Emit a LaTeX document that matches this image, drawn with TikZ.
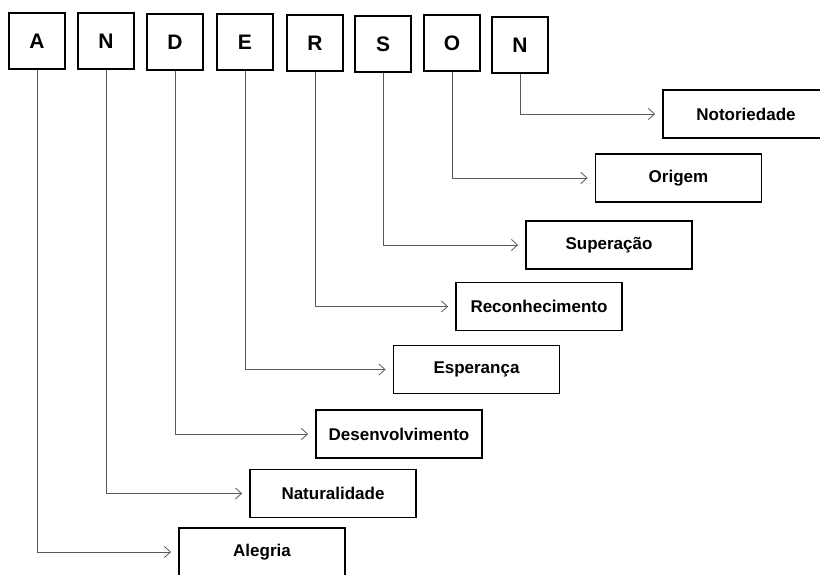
\documentclass[tikz,border=0pt]{standalone}
\usepackage{fontspec}
\setmainfont{Liberation Sans}
\usetikzlibrary{arrows.meta}

\begin{document}
\begin{tikzpicture}[x=1pt, y=-1pt,
  letra/.style={draw, line width=1.9pt, minimum width=56pt, minimum height=56pt, inner sep=0pt, font=\fontsize{21}{24}\selectfont\bfseries},
  palavra/.style={draw, line width=1.9pt, minimum width=166pt, minimum height=48pt, inner sep=0pt, font=\fontsize{17}{20}\selectfont\bfseries},
  liga/.style={gray!70!black, line width=0.8pt, -{Straight Barb[length=6pt,width=11pt]}, shorten >=7pt}]
\useasboundingbox (0,0) rectangle (820,574);
\clip (0,0) rectangle (820,574);
% letras do nome
\node [letra] (lA) at (37,41) {A};
\node [letra] (lN) at (106,41) {N};
\node [letra] (lD) at (175,42) {D};
\node [letra] (lE) at (245,42) {E};
\node [letra] (lR) at (315,43) {R};
\node [letra] (lS) at (383,44) {S};
\node [letra] (lO) at (452,43) {O};
\node [letra] (lN2) at (520,45) {N};
% palavras
\node [palavra] (notoriedade) at (746,114) {Notoriedade};
\node [palavra] (origem) at (678.5,178) {Origem};
\node [palavra] (superacao) at (609,245) {Superação};
\node [palavra] (reconhecimento) at (539,306.5) {Reconhecimento};
\node [palavra] (esperanca) at (476.5,369.5) {Esperança};
\node [palavra] (desenvolvimento) at (399,434) {Desenvolvimento};
\node [palavra] (naturalidade) at (333,493.5) {Naturalidade};
\node [palavra] (alegria) at (262,552) {Alegria};
% ligacoes
\draw [liga] (lN2.south) |- (notoriedade.west);
\draw [liga] (lO.south) |- (origem.west);
\draw [liga] (lS.south) |- (superacao.west);
\draw [liga] (lR.south) |- (reconhecimento.west);
\draw [liga] (lE.south) |- (esperanca.west);
\draw [liga] (lD.south) |- (desenvolvimento.west);
\draw [liga] (lN.south) |- (naturalidade.west);
\draw [liga] (lA.south) |- (alegria.west);
\end{tikzpicture}
\end{document}
